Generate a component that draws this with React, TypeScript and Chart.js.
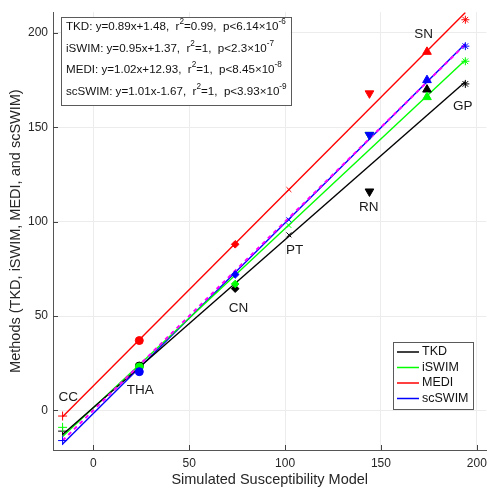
import React, { useEffect, useRef } from "react";
import { Chart, registerables } from "chart.js";

Chart.register(...registerables);

// ---- data ----
const regions = ["CC", "THA", "CN", "PT", "RN", "SN", "GP"];
const modelValues = [-16, 24, 74, 102, 144, 174, 194];
const tkdValues = [-11, 23.5, 64.5, 93, 116, 170, 173];
const iswimValues = [-9, 23, 67, 98, 146, 166, 185];
const mediValues = [-3, 37, 88, 117, 168, 190, 207];
const scswimValues = [-16, 20.5, 72, 101, 146, 175, 193];

const methods = ["TKD", "iSWIM", "MEDI", "scSWIM"];
const slopes = [0.89, 0.95, 1.02, 1.01];
const intercepts = [1.48, 1.37, 12.93, -1.67];
const rSquared = ["0.99", "1", "1", "1"];
const pMantissa = ["6.14", "2.3", "8.45", "3.93"];
const pExponent = ["-6", "-7", "-8", "-9"];

// region label anchors (data units)
const labelX = [-13, 24.5, 75.7, 105, 143.6, 172.3, 192.7];
const labelY = [6.8, 10.5, 54, 85, 107.6, 199.5, 161];

const xTicks = [0, 50, 100, 150, 200];
const yTicks = [0, 50, 100, 150, 200];

// ---- styles ----
const FAMILY = "'Liberation Sans', Arial, Helvetica, sans-serif";
const methodColors = ["#000000", "#00ff00", "#ff0000", "#0000ff"];
const regionMarkers = ["cross", "circle", "rectRot", "crossRot", "triangle", "triangle", "star"];
const regionRotation = [0, 0, 0, 0, 180, 0, 0];
const markerRadius = [4.5, 4, 3.8, 3.5, 5, 5, 4];

const seriesValues = [tkdValues, iswimValues, mediValues, scswimValues];

const overlayPlugin = {
  id: "overlay",
  afterDraw(chart: any) {
    const { ctx, chartArea, scales } = chart;
    const xs = scales.x;
    const ys = scales.y;
    ctx.save();

    // inward tick marks
    ctx.strokeStyle = "#444";
    ctx.lineWidth = 1;
    ctx.beginPath();
    xTicks.forEach((t) => {
      const px = Math.round(xs.getPixelForValue(t)) + 0.5;
      ctx.moveTo(px, chartArea.bottom);
      ctx.lineTo(px, chartArea.bottom - 5);
    });
    yTicks.forEach((t) => {
      const py = Math.round(ys.getPixelForValue(t)) + 0.5;
      ctx.moveTo(chartArea.left, py);
      ctx.lineTo(chartArea.left + 5, py);
    });
    ctx.stroke();

    // region labels
    ctx.fillStyle = "#1a1a1a";
    ctx.font = `13.5px ${FAMILY}`;
    ctx.textAlign = "center";
    ctx.textBaseline = "middle";
    regions.forEach((r, i) => {
      ctx.fillText(r, xs.getPixelForValue(labelX[i]), ys.getPixelForValue(labelY[i]));
    });

    // stats box
    const size = 11.6;
    const supSize = 8.2;
    const boxX = chartArea.left + 8;
    const boxY = chartArea.top + 5;
    const rowGap = 21.5;
    const lines = methods.map((m, i) => {
      const b = intercepts[i];
      const sign = b < 0 ? "-" : "+";
      return [
        [`${m}: y=${slopes[i].toFixed(2)}x${sign}${Math.abs(b).toFixed(2)},  r`, false],
        ["2", true],
        [`=${rSquared[i]},  p<${pMantissa[i]}\u00d710`, false],
        [pExponent[i], true],
      ] as [string, boolean][];
    });
    const measure = (segs: [string, boolean][]) => {
      let w = 0;
      segs.forEach(([t, sup]) => {
        ctx.font = `${sup ? supSize : size}px ${FAMILY}`;
        w += ctx.measureText(t).width;
      });
      return w;
    };
    const maxW = Math.max(...lines.map(measure));
    const boxW = maxW + 9;
    const boxH = rowGap * 4 + 2;
    ctx.fillStyle = "#ffffff";
    ctx.fillRect(boxX, boxY, boxW, boxH);
    ctx.strokeStyle = "#5a5a5a";
    ctx.lineWidth = 1;
    ctx.strokeRect(Math.round(boxX) + 0.5, Math.round(boxY) + 0.5, Math.round(boxW), Math.round(boxH));
    ctx.fillStyle = "#111";
    ctx.textAlign = "left";
    ctx.textBaseline = "middle";
    lines.forEach((segs, i) => {
      let cx = boxX + 5;
      const cy = boxY + 10 + i * rowGap;
      segs.forEach(([t, sup]) => {
        ctx.font = `${sup ? supSize : size}px ${FAMILY}`;
        ctx.fillText(t, cx, sup ? cy - 5 : cy);
        cx += ctx.measureText(t).width;
      });
    });

    // legend
    const legW = 80;
    const legH = 67;
    const legX = Math.round(xs.getPixelForValue(156.5));
    const legY = chartArea.bottom - 108;
    ctx.fillStyle = "#ffffff";
    ctx.fillRect(legX, legY, legW, legH);
    ctx.strokeStyle = "#5a5a5a";
    ctx.strokeRect(legX + 0.5, Math.round(legY) + 0.5, legW, legH);
    ctx.font = `12.5px ${FAMILY}`;
    methods.forEach((m, i) => {
      const cy = legY + 10 + i * 15.5;
      ctx.strokeStyle = methodColors[i];
      ctx.lineWidth = 1.5;
      ctx.beginPath();
      ctx.moveTo(legX + 4, cy);
      ctx.lineTo(legX + 26, cy);
      ctx.stroke();
      ctx.fillStyle = "#111";
      ctx.fillText(m, legX + 29, cy);
    });

    ctx.restore();
  },
};

export default function App() {
  const ref = useRef<HTMLCanvasElement | null>(null);

  useEffect(() => {
    if (!ref.current) return;
    const xMin = Math.min(...modelValues);
    const xMax = Math.max(...modelValues);

    const scatterSets = methods.map((m, i) => ({
      type: "scatter" as const,
      label: m,
      data: modelValues.map((x, k) => ({ x, y: seriesValues[i][k] })),
      pointStyle: regionMarkers,
      rotation: regionRotation,
      pointRadius: markerRadius,
      pointBackgroundColor: methodColors[i],
      pointBorderColor: methodColors[i],
      pointBorderWidth: 1,
      showLine: false,
      order: -i,
    }));

    const identitySet = {
      type: "line" as const,
      label: "identity",
      data: [
        { x: xMin, y: xMin },
        { x: xMax, y: xMax },
      ],
      borderColor: "#ff00ff",
      borderWidth: 2,
      borderDash: [4, 4],
      pointRadius: 0,
      order: 1,
    };

    const fitSets = methods.map((m, i) => ({
      type: "line" as const,
      label: m + " fit",
      data: [
        { x: xMin, y: slopes[i] * xMin + intercepts[i] },
        { x: xMax, y: slopes[i] * xMax + intercepts[i] },
      ],
      borderColor: methodColors[i],
      borderWidth: 1.4,
      pointRadius: 0,
      order: 2,
    }));

    const chart = new Chart(ref.current, {
      type: "scatter",
      data: { datasets: [...scatterSets, identitySet, ...fitSets] as any },
      options: {
        animation: false,
        responsive: false,
        layout: { padding: { top: 8, right: 0, left: 0, bottom: 0 } },
        plugins: { legend: { display: false }, tooltip: { enabled: false } },
        scales: {
          x: {
            type: "linear",
            min: -21,
            max: 205,
            afterFit: (s: any) => {
              s.height = 39;
            },
            grid: { color: "#ececec", drawTicks: false },
            border: { color: "#555", width: 1 },
            ticks: {
              stepSize: 50,
              includeBounds: false,
              padding: 6,
              color: "#262626",
              font: { family: FAMILY, size: 12 },
            },
            title: {
              display: true,
              text: "Simulated Susceptibility Model",
              color: "#262626",
              font: { family: FAMILY, size: 14.5, lineHeight: 1 },
              padding: { top: 0, bottom: 1.5 },
            },
          },
          y: {
            type: "linear",
            min: -21,
            max: 211,
            afterFit: (s: any) => {
              s.width = 53;
            },
            grid: { color: "#ececec", drawTicks: false },
            border: { color: "#555", width: 1 },
            ticks: {
              stepSize: 50,
              includeBounds: false,
              padding: 5,
              color: "#262626",
              font: { family: FAMILY, size: 12 },
            },
            title: {
              display: true,
              text: "Methods (TKD, iSWIM, MEDI, and scSWIM)",
              color: "#262626",
              font: { family: FAMILY, size: 14.5, lineHeight: 1 },
              padding: { top: 9, bottom: 0 },
            },
          },
        },
      },
      plugins: [overlayPlugin],
    });

    return () => chart.destroy();
  }, []);

  return (
    <div style={{ position: "fixed", left: 0, top: 0, width: 493, height: 489, background: "#fff" }}>
      <canvas ref={ref} width={493} height={489} style={{ display: "block" }} />
    </div>
  );
}
